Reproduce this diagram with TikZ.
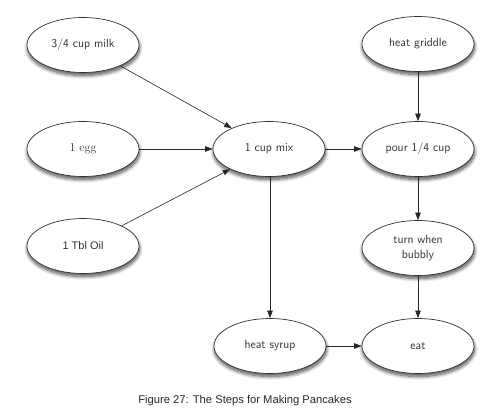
\documentclass[tikz,border=0pt]{standalone}
\usepackage{fontspec}
\newfontfamily\libsans{Liberation Sans}
\usetikzlibrary{arrows.meta,shapes.geometric,shadows.blur}
\begin{document}
\begin{tikzpicture}[x=1pt,y=1pt,
  stepnode/.style={ellipse,draw=black!80,line width=0.7pt,fill=white,
    minimum width=112pt,minimum height=55pt,inner sep=0pt,
    text=black!80,font=\sffamily\fontsize{12}{15}\selectfont,align=center,
    blur shadow={shadow xshift=0.5pt,shadow yshift=-3pt,shadow blur radius=3.5pt,shadow blur steps=10,shadow opacity=70}},
  conn/.style={-{Triangle[length=7.5pt,width=5.5pt]},draw=black!85,line width=0.6pt}]
\useasboundingbox (0,0) rectangle (490,-419);
\node[stepnode] (milk) at (83,-45) {3/4 cup milk};
\node[stepnode,font=\rmfamily\fontsize{12}{14}\selectfont] (egg) at (83,-149) {1 egg};
\node[stepnode,font=\libsans\fontsize{11}{13}\selectfont] (oil) at (83,-246) {1 Tbl Oil};
\node[stepnode] (mix) at (269,-149) {1 cup mix};
\node[stepnode] (griddle) at (418,-44) {heat griddle};
\node[stepnode] (pour) at (418,-149) {pour 1/4 cup};
\node[stepnode] (turn) at (418,-248) {turn when\\bubbly};
\node[stepnode] (syrup) at (270,-346) {heat syrup};
\node[stepnode] (eat) at (418,-346) {eat};
\draw[conn] (milk) -- (mix);
\draw[conn] (egg) -- (mix);
\draw[conn] (oil) -- (mix);
\draw[conn] (mix) -- (pour);
\draw[conn] (griddle) -- (pour);
\draw[conn] (pour) -- (turn);
\draw[conn] (turn) -- (eat);
\draw[conn] (mix.south -| syrup.north) -- (syrup);
\draw[conn] (syrup) -- (eat);
\node[font=\libsans\fontsize{11.2}{13}\selectfont,text=black!85] (caption) at (245,-401) {Figure 27: The Steps for Making Pancakes};
\end{tikzpicture}
\end{document}
